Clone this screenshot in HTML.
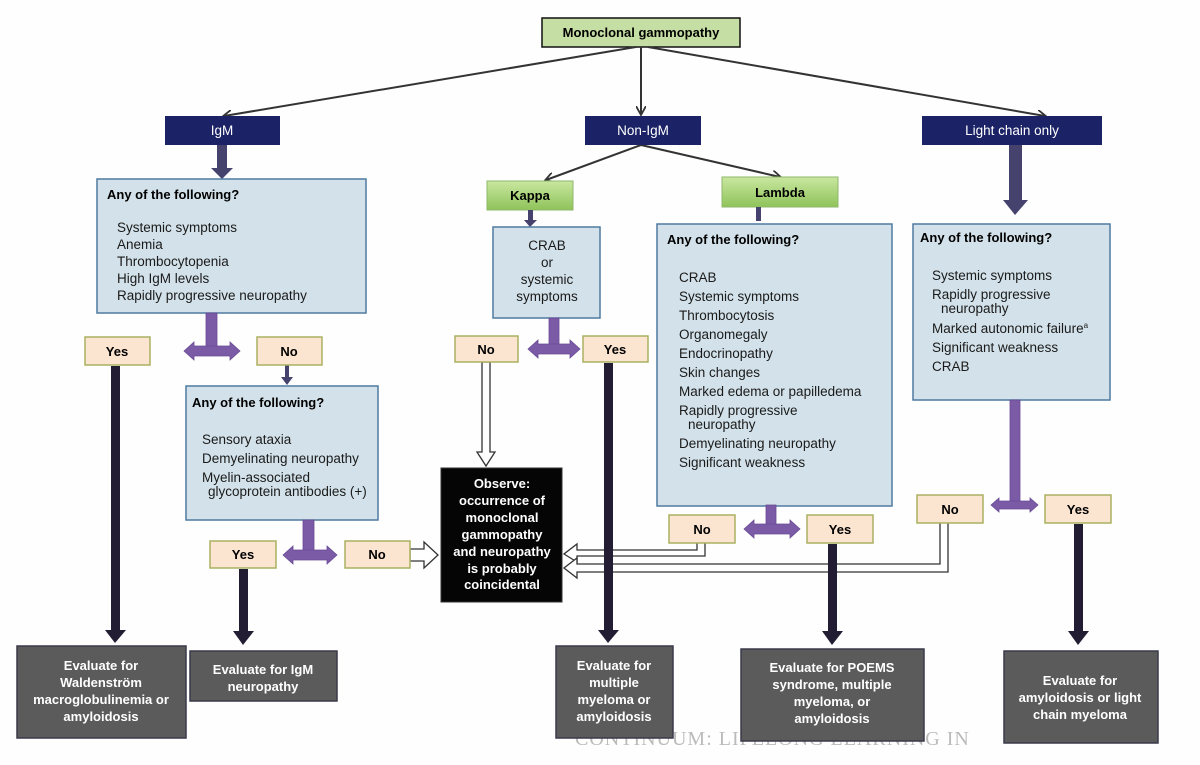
<!DOCTYPE html>
<html><head><meta charset="utf-8"><style>
html,body{margin:0;padding:0;background:#fff;}
svg{display:block;font-family:"Liberation Sans",sans-serif;}
.b{font-weight:bold;font-size:13px;}
.t{font-size:13.5px;fill:#1a1a1a;}
.w{fill:#fff;font-weight:bold;font-size:13px;}
.n{fill:#fff;font-size:13.5px;}
</style></head><body>
<svg width="1200" height="765" viewBox="0 0 1200 765" xmlns="http://www.w3.org/2000/svg">
<defs>
<linearGradient id="g" x1="0" y1="0" x2="0" y2="1"><stop offset="0" stop-color="#c9e7a0"/><stop offset="1" stop-color="#8fc35a"/></linearGradient>
<marker id="ah" markerWidth="10" markerHeight="10" refX="8" refY="5" orient="auto" markerUnits="userSpaceOnUse"><path d="M0,0 L9,5 L0,10" fill="none" stroke="#333" stroke-width="1.8"/></marker>
</defs>
<rect width="1200" height="765" fill="#fefefe"/>
<text x="575" y="745" font-family="Liberation Serif,serif" font-size="20" fill="#bbb" letter-spacing="1">CONTINUUM: LIFELONG LEARNING IN</text>

<rect x="542" y="18" width="198" height="29" fill="#c5dea3" stroke="#111" stroke-width="1.5"/>
<text x="641" y="37" class="b" text-anchor="middle">Monoclonal gammopathy</text>
<g stroke="#333" stroke-width="2" fill="none">
<line x1="636" y1="47" x2="224" y2="116" marker-end="url(#ah)"/>
<line x1="641" y1="47" x2="641" y2="114" marker-end="url(#ah)"/>
<line x1="648" y1="47" x2="1045" y2="116" marker-end="url(#ah)"/>
<line x1="641" y1="145" x2="546" y2="180" marker-end="url(#ah)"/>
<line x1="641" y1="145" x2="780" y2="177" marker-end="url(#ah)"/>
</g>
<rect x="165" y="116" width="115" height="29" fill="#1b2366"/><text x="222" y="135" class="n" text-anchor="middle">IgM</text>
<rect x="585" y="116" width="116" height="29" fill="#1b2366"/><text x="643" y="135" class="n" text-anchor="middle">Non-IgM</text>
<rect x="922" y="116" width="180" height="29" fill="#1b2366"/><text x="1012" y="135" class="n" text-anchor="middle">Light chain only</text>

<rect x="487" y="181" width="86" height="29" fill="url(#g)" stroke="#8fb86a"/><text x="530" y="200" class="b" text-anchor="middle">Kappa</text>
<rect x="722" y="177" width="116" height="30" fill="url(#g)" stroke="#8fb86a"/><text x="780" y="197" class="b" text-anchor="middle">Lambda</text>

<g fill="#45436e">
<rect x="217" y="145" width="10" height="24"/><path d="M211,168 L233,168 L222,179 Z"/>
<rect x="1009" y="145" width="13" height="57"/><path d="M1003,200 L1028,200 L1015,215 Z"/>
<rect x="528" y="210" width="5" height="12"/><path d="M524,220 L537,220 L530,227 Z"/>
<rect x="756" y="207" width="5" height="14"/>
<rect x="285" y="365" width="4" height="13"/><path d="M281,377 L293,377 L287,385 Z"/>
</g>

<g fill="#d3e2ea" stroke="#4f7aa0" stroke-width="1.5">
<rect x="97" y="179" width="269" height="134"/>
<rect x="186" y="386" width="192" height="134"/>
<rect x="493" y="227" width="107" height="91"/>
<rect x="657" y="224" width="235" height="282"/>
<rect x="913" y="224" width="197" height="176"/>
</g>
<text x="107" y="199" class="b">Any of the following?</text>
<g class="t"><text x="117" y="232">Systemic symptoms</text><text x="117" y="249">Anemia</text><text x="117" y="266">Thrombocytopenia</text><text x="117" y="283">High IgM levels</text><text x="117" y="300">Rapidly progressive neuropathy</text></g>

<text x="192" y="407" class="b">Any of the following?</text>
<g class="t"><text x="202" y="444">Sensory ataxia</text><text x="202" y="463">Demyelinating neuropathy</text><text x="202" y="482">Myelin-associated</text><text x="208" y="496">glycoprotein antibodies (+)</text></g>

<g class="t" text-anchor="middle"><text x="547" y="250">CRAB</text><text x="547" y="267">or</text><text x="547" y="284">systemic</text><text x="547" y="301">symptoms</text></g>

<text x="667" y="244" class="b">Any of the following?</text>
<g class="t"><text x="679" y="282">CRAB</text><text x="679" y="301">Systemic symptoms</text><text x="679" y="320">Thrombocytosis</text><text x="679" y="339">Organomegaly</text><text x="679" y="358">Endocrinopathy</text><text x="679" y="377">Skin changes</text><text x="679" y="396">Marked edema or papilledema</text><text x="679" y="415">Rapidly progressive</text><text x="688" y="429">neuropathy</text><text x="679" y="448">Demyelinating neuropathy</text><text x="679" y="467">Significant weakness</text></g>

<text x="920" y="242" class="b">Any of the following?</text>
<g class="t"><text x="932" y="280">Systemic symptoms</text><text x="932" y="299">Rapidly progressive</text><text x="941" y="313">neuropathy</text><text x="932" y="333">Marked autonomic failure<tspan font-size="8" dy="-5">a</tspan></text><text x="932" y="352">Significant weakness</text><text x="932" y="371">CRAB</text></g>

<g fill="#7b5aa6" stroke="#6a4c96" stroke-width="0.8">
<rect x="206" y="313" width="11" height="38"/><path d="M184,351 L194,342 L194,346 L230,346 L230,342 L240,351 L230,360 L230,356 L194,356 L194,360 Z"/>
<rect x="303" y="520" width="11" height="36"/><path d="M283,555 L293,546 L293,550 L327,550 L327,546 L337,555 L327,564 L327,560 L293,560 L293,564 Z"/>
<rect x="549" y="318" width="10" height="32"/><path d="M528,349 L538,340 L538,344 L570,344 L570,340 L580,349 L570,358 L570,354 L538,354 L538,358 Z"/>
<rect x="766" y="505" width="10" height="24"/><path d="M744,529 L754,520 L754,524 L790,524 L790,520 L800,529 L790,538 L790,534 L754,534 L754,538 Z"/>
<rect x="1010" y="400" width="10" height="103"/><path d="M991,505 L999,498 L999,501 L1030,501 L1030,498 L1038,505 L1030,512 L1030,509 L999,509 L999,512 Z"/>
</g>

<g fill="#fff" stroke="#333" stroke-width="1.3">
<path d="M482,362 L482,452 L477,452 L486,466 L495,452 L490,452 L490,362 Z"/>
<path d="M410,549 L424,549 L424,542 L438,555 L424,568 L424,561 L410,561 Z"/>
<path d="M697,543 L697,550 L577,550 L577,544 L564,554 L577,562 L577,556 L705,556 L705,543"/>
<path d="M940,522 L940,564 L577,564 L577,558 L564,568 L577,578 L577,572 L948,572 L948,522"/>
</g>

<g fill="#fbe4d0" stroke="#aab060" stroke-width="1.5">
<rect x="85" y="337" width="65" height="28"/><rect x="257" y="337" width="65" height="28"/>
<rect x="210" y="541" width="66" height="27"/><rect x="345" y="541" width="65" height="27"/>
<rect x="455" y="336" width="63" height="26"/><rect x="583" y="336" width="65" height="26"/>
<rect x="669" y="515" width="66" height="28"/><rect x="807" y="515" width="66" height="28"/>
<rect x="917" y="495" width="66" height="28"/><rect x="1045" y="495" width="66" height="28"/>
</g>
<g class="b" text-anchor="middle">
<text x="117" y="356">Yes</text><text x="289" y="356">No</text>
<text x="243" y="559">Yes</text><text x="377" y="559">No</text>
<text x="486" y="354">No</text><text x="615" y="354">Yes</text>
<text x="702" y="534">No</text><text x="840" y="534">Yes</text>
<text x="950" y="514">No</text><text x="1078" y="514">Yes</text>
</g>

<g fill="#231d33">
<rect x="111" y="366" width="9" height="266"/><path d="M105,630 L126,630 L115,643 Z"/>
<rect x="239" y="569" width="9" height="64"/><path d="M233,631 L254,631 L243,645 Z"/>
<rect x="604" y="363" width="9" height="269"/><path d="M598,630 L619,630 L608,643 Z"/>
<rect x="828" y="544" width="9" height="89"/><path d="M822,631 L843,631 L832,645 Z"/>
<rect x="1074" y="524" width="9" height="109"/><path d="M1068,631 L1089,631 L1078,645 Z"/>
</g>

<rect x="441" y="468" width="121" height="134" fill="#050505" stroke="#333"/>
<g class="w" text-anchor="middle"><text x="502" y="488">Observe:</text><text x="502" y="505">occurrence of</text><text x="502" y="522">monoclonal</text><text x="502" y="539">gammopathy</text><text x="502" y="556">and neuropathy</text><text x="502" y="573">is probably</text><text x="502" y="589">coincidental</text></g>

<g fill="#5b5b5b" stroke="#3a3a4a" stroke-width="1.5">
<rect x="17" y="646" width="169" height="92"/>
<rect x="190" y="651" width="147" height="50"/>
<rect x="556" y="646" width="117" height="92"/>
<rect x="741" y="649" width="183" height="92"/>
<rect x="1004" y="651" width="154" height="92"/>
</g>
<g class="w" text-anchor="middle">
<text x="101" y="670">Evaluate for</text><text x="101" y="687">Waldenström</text><text x="101" y="704">macroglobulinemia or</text><text x="101" y="721">amyloidosis</text>
<text x="263" y="674">Evaluate for IgM</text><text x="263" y="691">neuropathy</text>
<text x="614" y="670">Evaluate for</text><text x="614" y="687">multiple</text><text x="614" y="704">myeloma or</text><text x="614" y="721">amyloidosis</text>
<text x="832" y="672">Evaluate for POEMS</text><text x="832" y="689">syndrome, multiple</text><text x="832" y="706">myeloma, or</text><text x="832" y="723">amyloidosis</text>
<text x="1080" y="685">Evaluate for</text><text x="1080" y="702">amyloidosis or light</text><text x="1080" y="719">chain myeloma</text>
</g>
</svg>
</body></html>
